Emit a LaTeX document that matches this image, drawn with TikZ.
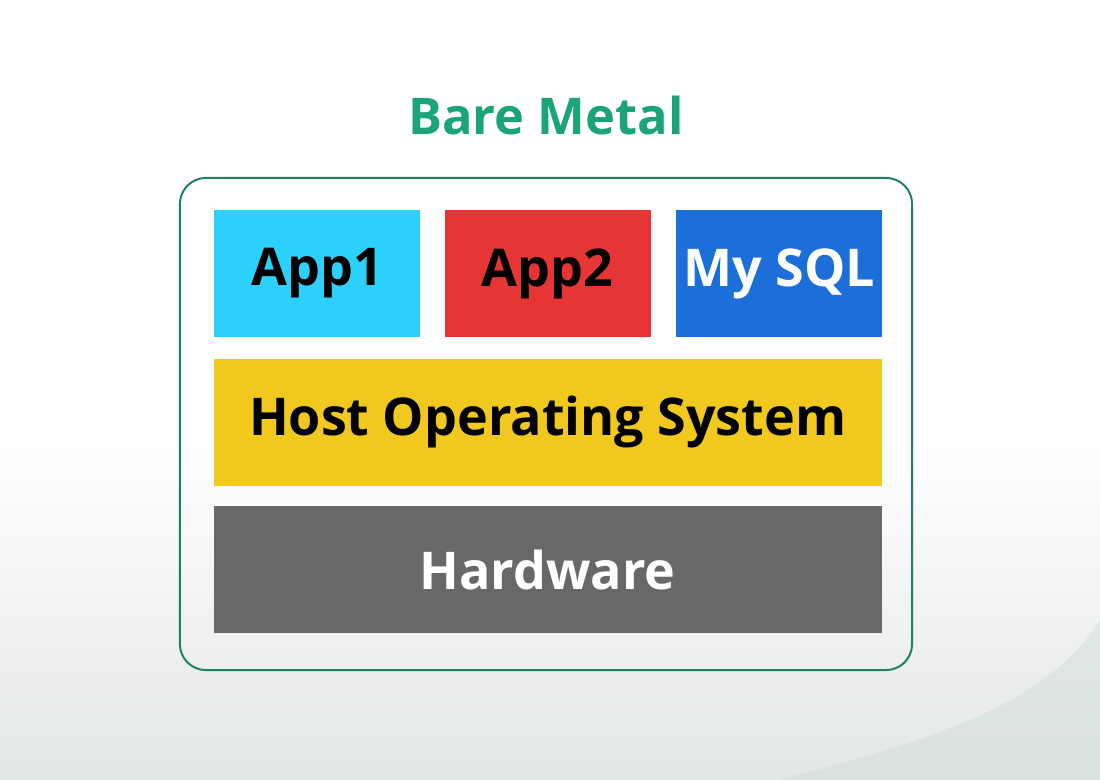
\documentclass[tikz,border=0pt]{standalone}
\usepackage{fontspec}
\setmainfont{Open Sans}
\usetikzlibrary{positioning}
\definecolor{metalgreen}{HTML}{1BA37A}
\definecolor{framegreen}{HTML}{1F7F62}
\definecolor{appcyan}{HTML}{2BD1FB}
\definecolor{appred}{HTML}{E63535}
\definecolor{sqlblue}{HTML}{1C6FD9}
\definecolor{osyellow}{HTML}{F0C81E}
\definecolor{hwgray}{HTML}{686868}
\definecolor{bgbot}{HTML}{E3E7E5}
\definecolor{swoosh}{HTML}{D2DED8}
\tikzset{
  blk/.style={rectangle, inner sep=0pt, font=\bfseries\fontsize{37}{40}\selectfont},
  appblk/.style={blk, minimum width=5.15cm, minimum height=3.175cm},
  wideblk/.style={blk, minimum width=16.7cm, minimum height=3.175cm},
  frame/.style={draw=framegreen, line width=1.4pt, rounded corners=0.65cm, minimum width=18.3cm, minimum height=12.3cm},
  ttl/.style={font=\bfseries\fontsize{36}{40}\selectfont, text=metalgreen},
}
\begin{document}
\begin{tikzpicture}[x=0.025cm, y=-0.025cm]
  % background
  \useasboundingbox (0,0) rectangle (1100,779);
  \fill[white] (0,0) rectangle (1100,779);
  \fill[top color=white, bottom color=bgbot] (0,440) rectangle (1100,779);
  \fill[swoosh, opacity=.5] (1100,620) .. controls (1050,700) and (940,740) .. (780,779) -- (1100,779) -- cycle;

  \node[ttl] (title) at (546,116) {Bare Metal};
  \node[frame] (box) at (546,424) {};

  % application layer
  \node[appblk, fill=appcyan] (app1) at (317,273.5) {App1};
  \node[appblk, fill=appred, right=0.6cm of app1] (app2) {App2};
  \node[appblk, fill=sqlblue, text=white, right=0.625cm of app2] (sql) {My SQL};

  % lower layers
  \node[wideblk, fill=osyellow, below=0.525cm of app2] (os) {Host Operating System};
  \node[wideblk, fill=hwgray, text=white, below=0.5cm of os] (hw) {Hardware};
\end{tikzpicture}
\end{document}
